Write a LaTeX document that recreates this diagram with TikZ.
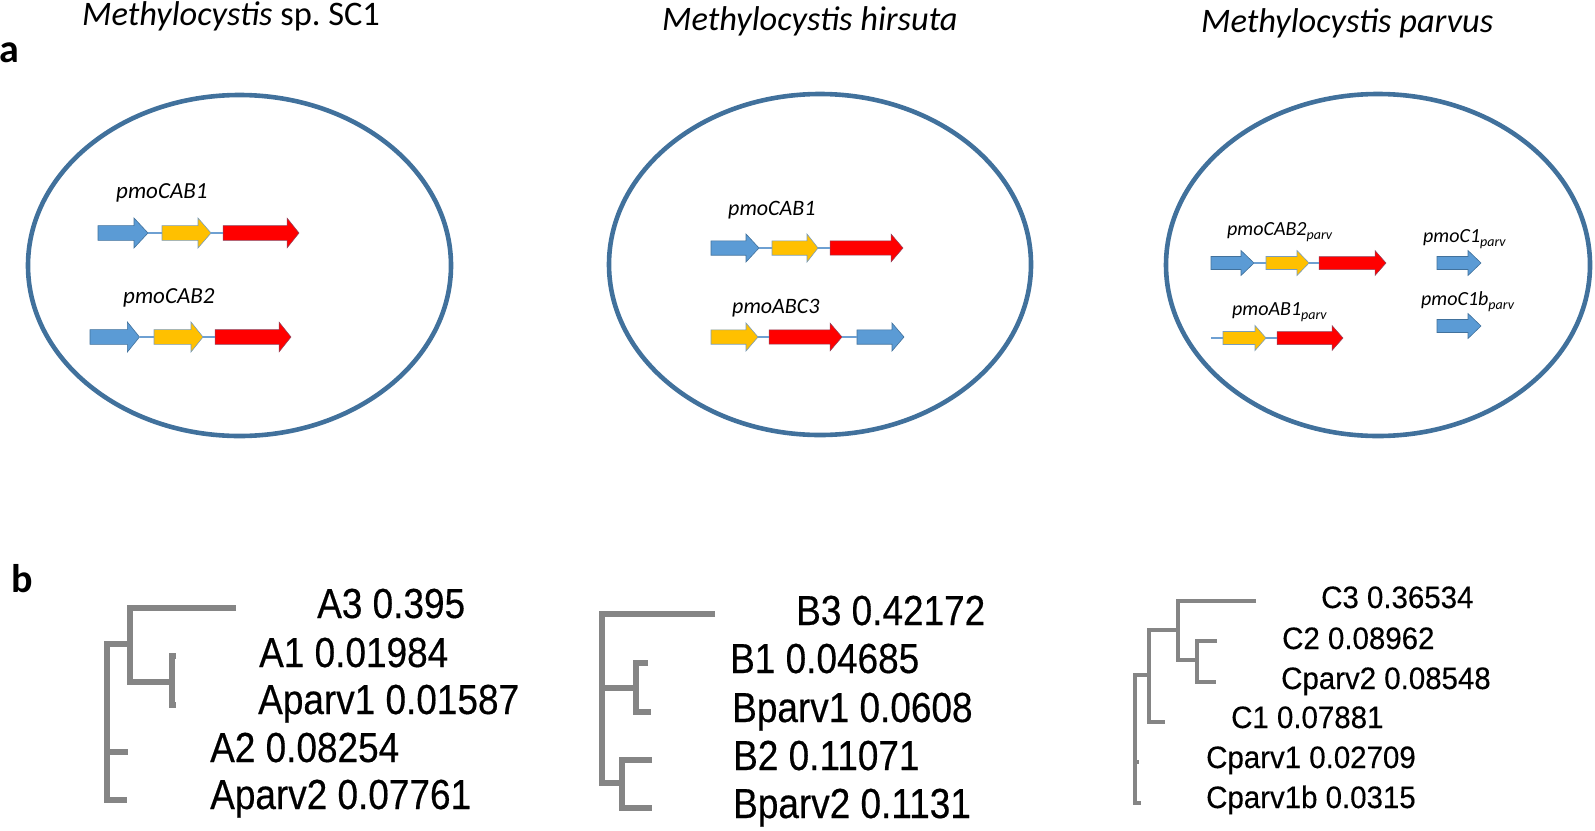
\documentclass[tikz,border=0pt]{standalone}
\usepackage{fontspec}
\setmainfont{Carlito}
\newfontfamily\treefont[FakeStretch=0.88,FakeBold=0.4]{Liberation Sans}
\newfontfamily\treefontc[FakeStretch=0.95,FakeBold=0.3]{Liberation Sans}
\definecolor{cellblue}{RGB}{65,113,156}
\definecolor{gblue}{RGB}{91,155,213}
\definecolor{gyellow}{RGB}{255,192,0}
\definecolor{gred}{RGB}{255,0,0}
\definecolor{gline}{RGB}{110,160,210}
\definecolor{treegray}{RGB}{133,133,133}
\newcommand\gene[8]{%
  \path[#1] (#3,#6-#7) -- (#5,#6-#7) -- (#5,#6-#8) -- (#4,#6) -- (#5,#6+#8) -- (#5,#6+#7) -- (#3,#6+#7) -- cycle;
  \coordinate (#2-w) at (#3,#6);
  \coordinate (#2-e) at (#4,#6);
}
\newcommand\parvsub[1]{\raisebox{-4pt}{\fontsize{14}{14}\selectfont\itshape #1}}
\begin{document}
\begin{tikzpicture}[x=1pt,y=-1pt,
  cell/.style={draw=cellblue,line width=4.6pt},
  blueg/.style={fill=gblue,draw=cellblue,line width=0.6pt},
  yellowg/.style={fill=gyellow,draw=cellblue!70,line width=0.6pt},
  redg/.style={fill=gred,draw=cellblue!60!red,line width=0.5pt},
  link/.style={draw=gline,line width=1.2pt},
  lab/.style={anchor=base west,inner sep=0pt},
  title/.style={lab,font=\fontsize{34.4}{40}\selectfont},
  genelab/.style={lab,font=\fontsize{23}{26}\selectfont\itshape},
  genelabb/.style={lab,font=\fontsize{22}{26}\selectfont\itshape},
  genelabc/.style={lab,font=\fontsize{20}{24}\selectfont\itshape},
  panel/.style={lab,font=\fontsize{40}{44}\selectfont\bfseries},
  treeab/.style={draw=treegray,line width=5.2pt},
  treec/.style={draw=treegray,line width=3.8pt},
  tlab/.style={lab,font=\fontsize{42}{46}\selectfont\treefont},
  tlabc/.style={lab,font=\fontsize{31}{34}\selectfont\treefontc}]
\useasboundingbox (0,0) rectangle (1595,830);

% titles and panel labels
\node[title] (t1) at (82,25) {\textit{Methylocystis} sp.\ SC1};
\node[title] (t2) at (662,30) {\textit{Methylocystis hirsuta}};
\node[title] (t3) at (1201,32) {\textit{Methylocystis parvus}};
\node[panel] (pa) at (-1,62) {a};
\node[panel] (pb) at (11,592) {b};

% cells
\draw[cell] (239.5,265.5) ellipse [x radius=211.5, y radius=170.5];
\draw[cell] (820,264.5) ellipse [x radius=211, y radius=170.5];
\draw[cell] (1378,265) ellipse [x radius=212, y radius=171];

% cell 1
\node[genelab] (l11) at (116,198) {pmoCAB1};
\gene{blueg}{a1}{98}{148}{134}{233}{7.4}{15}
\gene{yellowg}{a2}{162}{211}{198}{233}{7.4}{15}
\gene{redg}{a3}{223}{299}{287}{233}{7.4}{15}
\draw[link] (a1-e) -- (a2-w);
\draw[link] (a2-e) -- (a3-w);
\node[genelab] (l12) at (123,303) {pmoCAB2};
\gene{blueg}{b1}{90}{139.5}{127.4}{337}{7.4}{15}
\gene{yellowg}{b2}{154}{203}{191}{337}{7.4}{15}
\gene{redg}{b3}{215}{291}{279}{337}{7.4}{15}
\draw[link] (b1-e) -- (b2-w);
\draw[link] (b2-e) -- (b3-w);

% cell 2
\node[genelabb] (l21) at (728,215) {pmoCAB1};
\gene{blueg}{c1}{711}{759}{746}{248}{7.2}{14}
\gene{yellowg}{c2}{772}{818}{807}{248}{7.2}{14}
\gene{redg}{c3}{830}{903}{891}{248}{7.2}{14}
\draw[link] (c1-e) -- (c2-w);
\draw[link] (c2-e) -- (c3-w);
\node[genelabb] (l22) at (732,313) {pmoABC3};
\gene{yellowg}{d1}{711}{758}{746}{337}{7.2}{14}
\gene{redg}{d2}{769}{842}{830}{337}{7.2}{14}
\gene{blueg}{d3}{857}{904}{892}{337}{7.2}{14}
\draw[link] (d1-e) -- (d2-w);
\draw[link] (d2-e) -- (d3-w);

% cell 3
\node[genelabc] (l31) at (1227,235) {pmoCAB2\parvsub{parv}};
\gene{blueg}{e1}{1211}{1254}{1241}{263}{6.5}{12.5}
\gene{yellowg}{e2}{1266}{1309}{1297}{263}{6.5}{12.5}
\gene{redg}{e3}{1319}{1386}{1375}{263}{6.5}{12.5}
\draw[link] (e1-e) -- (e2-w);
\draw[link] (e2-e) -- (e3-w);
\node[genelabc] (l32) at (1232,315) {pmoAB1\parvsub{parv}};
\coordinate (f0) at (1211,338);
\gene{yellowg}{f1}{1223}{1266}{1255}{338}{6.5}{12.5}
\gene{redg}{f2}{1277}{1343}{1332}{338}{6.5}{12.5}
\draw[link] (f0) -- (f1-w);
\draw[link] (f1-e) -- (f2-w);
\node[genelabc] (l33) at (1423,242) {pmoC1\parvsub{parv}};
\gene{blueg}{g1}{1437}{1481}{1468}{263}{6.5}{12.5}
\node[genelabc] (l34) at (1421,305) {pmoC1b\parvsub{parv}};
\gene{blueg}{h1}{1437}{1481}{1468}{326}{6.5}{12.5}

% tree A
\draw[treeab] (236,608) -| (130,682) -- (172,682);
\draw[treeab] (176,656) -| (172,705) -- (176,705);
\draw[treeab] (130,644) -| (107,800) -- (127,800);
\draw[treeab] (107,752) -- (128,752);
\node[tlab] (ta3) at (317,618) {A3 0.395};
\node[tlab] (ta1) at (259,667) {A1 0.01984};
\node[tlab] (tap1) at (258,714) {Aparv1 0.01587};
\node[tlab] (ta2) at (210,762) {A2 0.08254};
\node[tlab] (tap2) at (210,809) {Aparv2 0.07761};

% tree B
\draw[treeab] (715,614) -| (602,783) -- (622,783);
\draw[treeab] (602,688) -- (636,688);
\draw[treeab] (648,663) -| (636,712) -- (651,712);
\draw[treeab] (652,760) -| (622,808) -- (652,808);
\node[tlab] (tb3) at (796,625) {B3 0.42172};
\node[tlab] (tb1) at (730,673) {B1 0.04685};
\node[tlab] (tbp1) at (732,722) {Bparv1 0.0608};
\node[tlab] (tb2) at (733,770) {B2 0.11071};
\node[tlab] (tbp2) at (733,818) {Bparv2 0.1131};

% tree C
\draw[treec] (1256,601) -| (1178,660) -- (1197,660);
\draw[treec] (1217,641) -| (1197,682) -- (1216,682);
\draw[treec] (1178,630) -| (1149,722) -- (1165,722);
\draw[treec] (1149,675) -| (1135,803) -- (1141,803);
\draw[treec] (1135,762) -- (1139,762);
\node[tlabc] (tc3) at (1321,608) {C3 0.36534};
\node[tlabc] (tc2) at (1282,649) {C2 0.08962};
\node[tlabc] (tcp2) at (1281,689) {Cparv2 0.08548};
\node[tlabc] (tc1) at (1231,728) {C1 0.07881};
\node[tlabc] (tcp1) at (1206,768) {Cparv1 0.02709};
\node[tlabc] (tcp1b) at (1206,808) {Cparv1b 0.0315};
\end{tikzpicture}
\end{document}
